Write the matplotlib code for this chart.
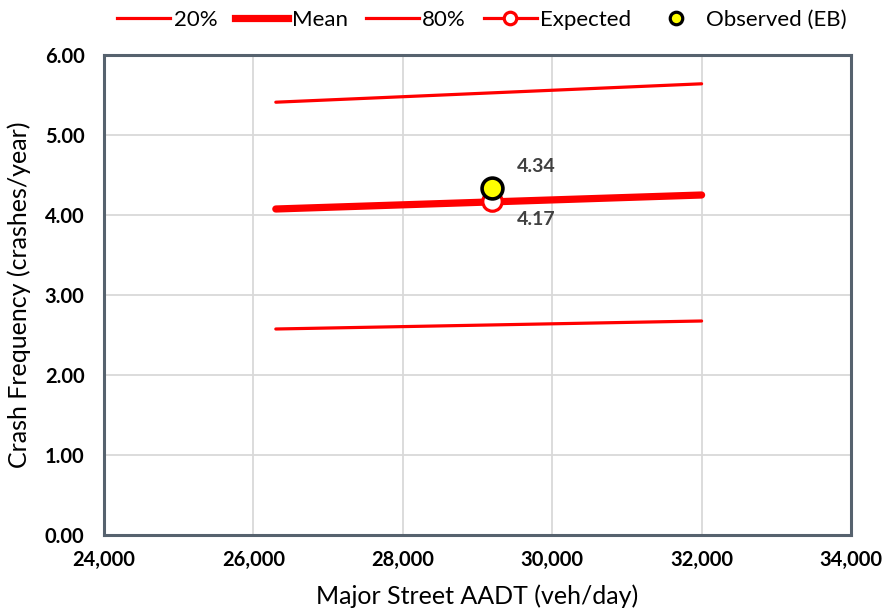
import matplotlib
matplotlib.use("Agg")
import matplotlib.pyplot as plt
from matplotlib.lines import Line2D

plt.rcParams['font.family'] = ['Lato', 'DejaVu Sans']

# Data
aadt = [26300, 32000]
p20 = [2.575, 2.675]
mean = [4.075, 4.25]
p80 = [5.41, 5.64]
pt_x = [29200]
expected = [4.17]
observed = [4.34]
x_ticks = [24000, 26000, 28000, 30000, 32000, 34000]
y_ticks = [0, 1, 2, 3, 4, 5, 6]

fig = plt.figure(figsize=(8.84, 6.10), dpi=100)
ax = fig.add_axes([104/884, 1-535/610, (851-104)/884, (535-55)/610])

red = '#FF0000'
ax.plot(aadt, p20, color=red, lw=2.3, solid_capstyle='round', zorder=3)
ax.plot(aadt, mean, color=red, lw=5.2, solid_capstyle='round', zorder=3)
ax.plot(aadt, p80, color=red, lw=2.3, solid_capstyle='round', zorder=3)
ax.plot(pt_x, expected, 'o', ms=14, mfc='white', mec=red, mew=2.3, zorder=4)
ax.plot(pt_x, observed, 'o', ms=15, mfc='#FFFF00', mec='black', mew=2.6, zorder=5)

ax.text(pt_x[0] + 330, observed[0] + 0.27, f"{observed[0]:.2f}", fontsize=14,
        fontweight='bold', color='#404040', ha='left', va='center')
ax.text(pt_x[0] + 330, expected[0] - 0.23, f"{expected[0]:.2f}", fontsize=14,
        fontweight='bold', color='#404040', ha='left', va='center')

ax.set_xlim(24000, 34000)
ax.set_ylim(0, 6)
ax.set_xticks(x_ticks)
ax.set_xticklabels([f"{v:,}" for v in x_ticks])
ax.set_yticks(y_ticks)
ax.set_yticklabels([f"{v:.2f}" for v in y_ticks])
ax.tick_params(length=0, labelsize=14.5)
for lbl in ax.get_xticklabels() + ax.get_yticklabels():
    lbl.set_fontweight('bold')
ax.tick_params(axis='x', pad=11)
ax.tick_params(axis='y', pad=14)
ax.grid(True, color='#D9D9D9', lw=1.3)
ax.set_axisbelow(True)
for s in ax.spines.values():
    s.set_color('#56626E')
    s.set_linewidth(2.2)

ax.set_xlabel('Major Street AADT (veh/day)', fontsize=18, labelpad=10)
ax.set_ylabel('Crash Frequency (crashes/year)', fontsize=18, labelpad=10)

handles = [
    Line2D([], [], color=red, lw=2.3),
    Line2D([], [], color=red, lw=5.2),
    Line2D([], [], color=red, lw=2.3),
    Line2D([], [], color=red, lw=2.3, marker='o', ms=9, mfc='white', mec=red, mew=2.3),
    Line2D([], [], ls='none', marker='o', ms=9, mfc='#FFFF00', mec='black', mew=2.3),
]
labels = ['20%', 'Mean', '80%', 'Expected', 'Observed (EB)']
fig.legend(handles, labels, loc='center', bbox_to_anchor=(0.545, 1-20/610), ncol=5,
           frameon=False, fontsize=16, handlelength=2.4, handletextpad=0.15,
           columnspacing=0.8)

fig.savefig('out.png', dpi=100)
